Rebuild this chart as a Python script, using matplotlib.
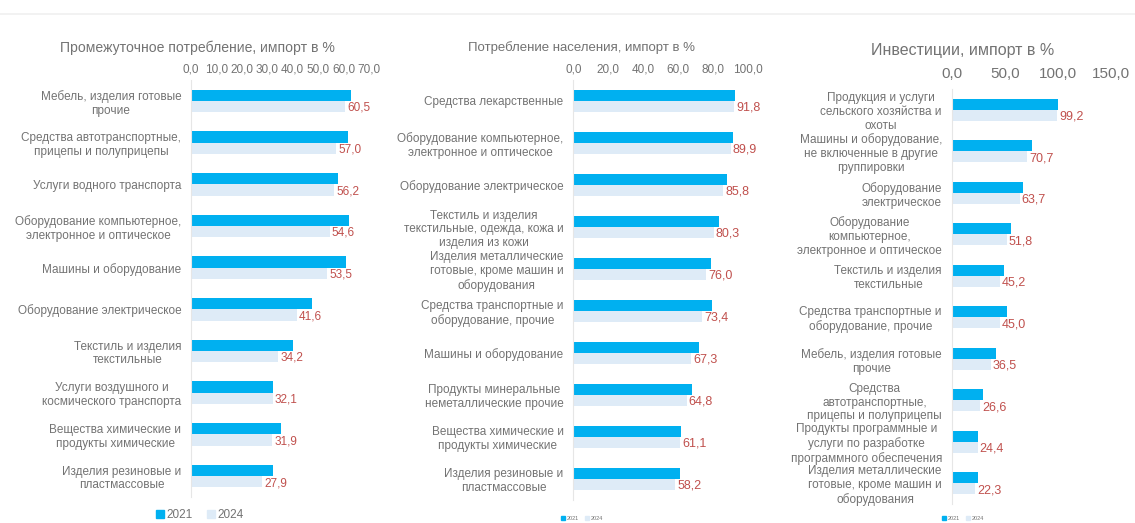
import matplotlib
matplotlib.use("Agg")
import matplotlib.pyplot as plt
from matplotlib.lines import Line2D
from matplotlib.patches import Patch

plt.rcParams['font.family'] = ['Liberation Sans', 'DejaVu Sans']

W, H = 1135, 523

years = ["2021", "2024"]

# Промежуточное потребление
cats_inter = [
    "Мебель, изделия готовые\nпрочие",
    "Средства автотранспортные,\nприцепы и полуприцепы",
    "Услуги водного транспорта",
    "Оборудование компьютерное,\nэлектронное и оптическое",
    "Машины и оборудование",
    "Оборудование электрическое",
    "Текстиль и изделия\nтекстильные",
    "Услуги воздушного и\nкосмического транспорта",
    "Вещества химические и\nпродукты химические",
    "Изделия резиновые и\nпластмассовые",
]
inter_2021 = [63.1, 61.8, 57.9, 62.2, 60.8, 47.7, 40.0, 32.3, 35.2, 32.1]
inter_2024 = [60.5, 57.0, 56.2, 54.6, 53.5, 41.6, 34.2, 32.1, 31.9, 27.9]
inter_ticks = [0, 10, 20, 30, 40, 50, 60, 70]

# Потребление населения
cats_house = [
    "Средства лекарственные",
    "Оборудование компьютерное,\nэлектронное и оптическое",
    "Оборудование электрическое",
    "Текстиль и изделия\nтекстильные, одежда, кожа и\nизделия из кожи",
    "Изделия металлические\nготовые, кроме машин и\nоборудования",
    "Средства транспортные и\nоборудование, прочие",
    "Машины и оборудование",
    "Продукты минеральные\nнеметаллические прочие",
    "Вещества химические и\nпродукты химические",
    "Изделия резиновые и\nпластмассовые",
]
house_2021 = [92.4, 91.1, 88.0, 83.3, 78.5, 79.4, 72.0, 67.6, 61.5, 61.0]
house_2024 = [91.8, 89.9, 85.8, 80.3, 76.0, 73.4, 67.3, 64.8, 61.1, 58.2]
house_ticks = [0, 20, 40, 60, 80, 100]

# Инвестиции
cats_inv = [
    "Продукция и услуги\nсельского хозяйства и\nохоты",
    "Машины и оборудование,\nне включенные в другие\nгруппировки",
    "Оборудование\nэлектрическое",
    "Оборудование\nкомпьютерное,\nэлектронное и оптическое",
    "Текстиль и изделия\nтекстильные",
    "Средства транспортные и\nоборудование, прочие",
    "Мебель, изделия готовые\nпрочие",
    "Средства\nавтотранспортные,\nприцепы и полуприцепы",
    "Продукты программные и\nуслуги по разработке\nпрограммного обеспечения",
    "Изделия металлические\nготовые, кроме машин и\nоборудования",
]
inv_2021 = [100.1, 75.1, 67.3, 55.4, 49.4, 52.2, 41.3, 29.1, 24.4, 24.4]
inv_2024 = [99.2, 70.7, 63.7, 51.8, 45.2, 45.0, 36.5, 26.6, 24.4, 22.3]
inv_ticks = [0, 50, 100, 150]

C21 = "#00B0F0"
C24 = "#DEEBF7"
CVAL = "#C0504D"
CTXT = "#737373"

fig = plt.figure(figsize=(W / 100, H / 100), dpi=100)
fig.add_artist(Line2D([0, 1], [1 - 14 / H, 1 - 14 / H], color="#F0F0F0", lw=1.2,
                      transform=fig.transFigure))


def fax(x0, x1, y0, y1):
    return fig.add_axes([x0 / W, 1 - y1 / H, (x1 - x0) / W, (y1 - y0) / H])


def panel(ax, cats, v21, v24, ticks, xmax, title, title_y, title_fs, tick_fs,
          tick_pad, lab_fs, val_fs, leg, title_x):
    n = len(cats)
    ys = list(range(n))
    bh = 0.27
    ax.barh([y - bh / 2 for y in ys], v21, height=bh, color=C21, label=years[0])
    ax.barh([y + bh / 2 for y in ys], v24, height=bh, color=C24, label=years[1])
    for y, v in zip(ys, v24):
        ax.text(v + xmax * 0.012, y + bh / 2 + 0.03, f"{v:.1f}".replace(".", ","),
                color=CVAL, fontsize=val_fs, va="center", ha="left")
    ax.set_xlim(0, xmax)
    ax.set_ylim(n - 0.5, -0.5)
    ax.set_yticks(ys)
    ax.set_yticklabels(cats, fontsize=lab_fs, color=CTXT, ha="right",
                       multialignment="center")
    ax.xaxis.tick_top()
    ax.set_xticks(ticks)
    ax.set_xticklabels([f"{t:.1f}".replace(".", ",") for t in ticks],
                       fontsize=tick_fs, color=CTXT)
    ax.tick_params(axis="both", length=0)
    ax.tick_params(axis="y", pad=7)
    ax.tick_params(axis="x", pad=tick_pad)
    for s in ["top", "right", "bottom"]:
        ax.spines[s].set_visible(False)
    ax.spines["left"].set_color("#E6E6E6")
    ax.spines["left"].set_linewidth(0.8)
    fig.text(title_x / W, 1 - title_y / H, title, fontsize=title_fs,
             color=CTXT, ha="center", va="center")
    lx, ly, lfs = leg
    handles = [Patch(color=C21), Patch(color=C24)]
    fig.legend(handles, years, loc="center", bbox_to_anchor=(lx / W, 1 - ly / H),
               ncol=2, frameon=False, fontsize=lfs, handlelength=0.7,
               handleheight=0.7, handletextpad=0.2, columnspacing=1.2,
               labelcolor=CTXT)


ax1 = fax(191, 369, 80, 497)
panel(ax1, cats_inter, inter_2021, inter_2024, inter_ticks, 70,
      "Промежуточное потребление, импорт в %", 48, 10.1, 8.5, 3.5, 8.5, 8.5,
      (200, 515, 8.5), 197)

ax2 = fax(573.3, 748.3, 80, 500)
panel(ax2, cats_house, house_2021, house_2024, house_ticks, 100,
      "Потребление населения, импорт в %", 48, 9.5, 8.5, 3.5, 8.5, 9,
      (582, 518, 4), 581)

ax3 = fax(951.7, 1111.4, 89, 504)
panel(ax3, cats_inv, inv_2021, inv_2024, inv_ticks, 150,
      "Инвестиции, импорт в %", 50, 11.5, 11, 6, 8.5, 9,
      (963, 518, 4), 963)

fig.savefig("out.png", dpi=100, facecolor="white")
